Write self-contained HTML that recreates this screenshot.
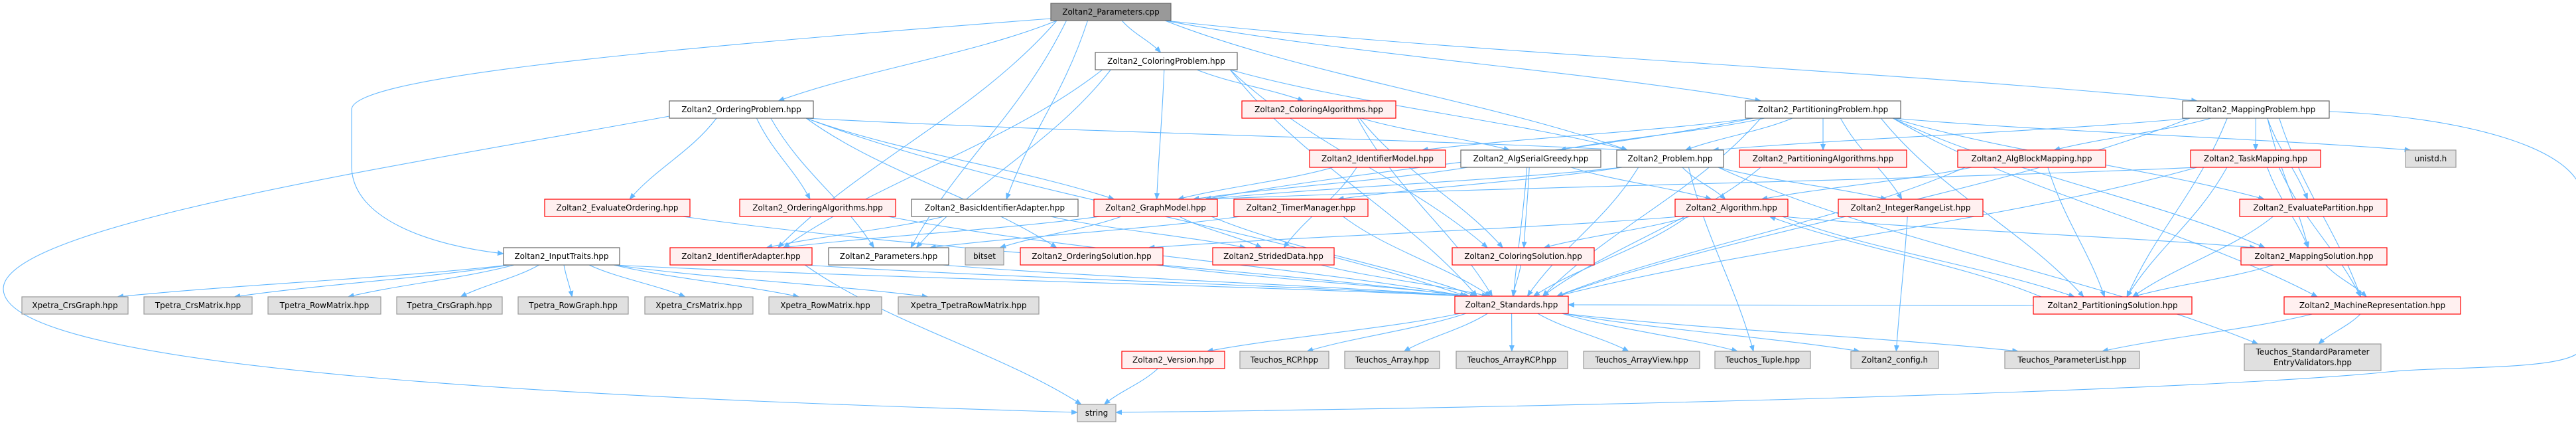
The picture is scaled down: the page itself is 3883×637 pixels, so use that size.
<!DOCTYPE html>
<html><head><meta charset="utf-8">
<style>
html,body{margin:0;padding:0;background:#fff;}
svg{display:block;}
text{font-family:"DejaVu Sans","Liberation Sans",sans-serif;font-size:12px;fill:#000;}
.w{fill:#fff;stroke:#666;stroke-width:1.2;}
.r{fill:#fff0f0;stroke:#f00;stroke-width:1.2;}
.g{fill:#e0e0e0;stroke:#999;stroke-width:1.2;}
.k{fill:#999;stroke:#666;stroke-width:1.2;}
.e{fill:none;stroke:#63b8ff;stroke-width:1.1;}
</style></head><body>
<svg id="s" width="3883" height="637" viewBox="0 0 3883 637" xmlns="http://www.w3.org/2000/svg">
<defs><marker id="a" markerWidth="10" markerHeight="8" refX="9" refY="4" orient="auto" markerUnits="userSpaceOnUse"><path d="M0,0 L10,4 L0,8 z" fill="#63b8ff"/></marker></defs>
<g id="edges"></g>
<g id="nodes">
<rect id="cpp" class="k" x="1584" y="5" width="181" height="26"/><text x="1674.5" y="22" text-anchor="middle">Zoltan2_Parameters.cpp</text>
<rect id="colp" class="w" x="1651" y="79" width="214" height="26"/><text x="1758" y="96" text-anchor="middle">Zoltan2_ColoringProblem.hpp</text>
<rect id="ordp" class="w" x="1009" y="152" width="217" height="26"/><text x="1117.5" y="169" text-anchor="middle">Zoltan2_OrderingProblem.hpp</text>
<rect id="cola" class="r" x="1872" y="152" width="232" height="26"/><text x="1988" y="169" text-anchor="middle">Zoltan2_ColoringAlgorithms.hpp</text>
<rect id="partp" class="w" x="2631" y="152" width="234" height="26"/><text x="2748" y="169" text-anchor="middle">Zoltan2_PartitioningProblem.hpp</text>
<rect id="mapp" class="w" x="3290" y="152" width="221" height="26"/><text x="3400.5" y="169" text-anchor="middle">Zoltan2_MappingProblem.hpp</text>
<rect id="idm" class="r" x="1974" y="226" width="205" height="26"/><text x="2076.5" y="243" text-anchor="middle">Zoltan2_IdentifierModel.hpp</text>
<rect id="asg" class="w" x="2202" y="226" width="211" height="26"/><text x="2307.5" y="243" text-anchor="middle">Zoltan2_AlgSerialGreedy.hpp</text>
<rect id="prob" class="w" x="2437" y="226" width="161" height="26"/><text x="2517.5" y="243" text-anchor="middle">Zoltan2_Problem.hpp</text>
<rect id="parta" class="r" x="2622" y="226" width="252" height="26"/><text x="2748" y="243" text-anchor="middle">Zoltan2_PartitioningAlgorithms.hpp</text>
<rect id="abm" class="r" x="2951" y="226" width="223" height="26"/><text x="3062.5" y="243" text-anchor="middle">Zoltan2_AlgBlockMapping.hpp</text>
<rect id="task" class="r" x="3302" y="226" width="196" height="26"/><text x="3400" y="243" text-anchor="middle">Zoltan2_TaskMapping.hpp</text>
<rect id="unistd" class="g" x="3626" y="226" width="76" height="26"/><text x="3664" y="243" text-anchor="middle">unistd.h</text>
<rect id="evo" class="r" x="821" y="300" width="219" height="26"/><text x="930.5" y="317" text-anchor="middle">Zoltan2_EvaluateOrdering.hpp</text>
<rect id="orda" class="r" x="1115" y="300" width="235" height="26"/><text x="1232.5" y="317" text-anchor="middle">Zoltan2_OrderingAlgorithms.hpp</text>
<rect id="bia" class="w" x="1374" y="300" width="251" height="26"/><text x="1499.5" y="317" text-anchor="middle">Zoltan2_BasicIdentifierAdapter.hpp</text>
<rect id="gm" class="r" x="1649" y="300" width="186" height="26"/><text x="1742" y="317" text-anchor="middle">Zoltan2_GraphModel.hpp</text>
<rect id="tm" class="r" x="1860" y="300" width="202" height="26"/><text x="1961" y="317" text-anchor="middle">Zoltan2_TimerManager.hpp</text>
<rect id="alg" class="r" x="2525" y="300" width="170" height="26"/><text x="2610" y="317" text-anchor="middle">Zoltan2_Algorithm.hpp</text>
<rect id="irl" class="r" x="2771" y="300" width="218" height="26"/><text x="2880" y="317" text-anchor="middle">Zoltan2_IntegerRangeList.hpp</text>
<rect id="evp" class="r" x="3376" y="300" width="222" height="26"/><text x="3487" y="317" text-anchor="middle">Zoltan2_EvaluatePartition.hpp</text>
<rect id="it" class="w" x="759" y="373" width="175" height="26"/><text x="846.5" y="390" text-anchor="middle">Zoltan2_InputTraits.hpp</text>
<rect id="ida" class="r" x="1010" y="373" width="214" height="26"/><text x="1117" y="390" text-anchor="middle">Zoltan2_IdentifierAdapter.hpp</text>
<rect id="parh" class="w" x="1249" y="373" width="181" height="26"/><text x="1339.5" y="390" text-anchor="middle">Zoltan2_Parameters.hpp</text>
<rect id="bitset" class="g" x="1455" y="373" width="58" height="26"/><text x="1484" y="390" text-anchor="middle">bitset</text>
<rect id="ords" class="r" x="1538" y="373" width="215" height="26"/><text x="1645.5" y="390" text-anchor="middle">Zoltan2_OrderingSolution.hpp</text>
<rect id="sd" class="r" x="1828" y="373" width="183" height="26"/><text x="1919.5" y="390" text-anchor="middle">Zoltan2_StridedData.hpp</text>
<rect id="cols" class="r" x="2189" y="373" width="214" height="26"/><text x="2296" y="390" text-anchor="middle">Zoltan2_ColoringSolution.hpp</text>
<rect id="maps" class="r" x="3378" y="373" width="220" height="26"/><text x="3488" y="390" text-anchor="middle">Zoltan2_MappingSolution.hpp</text>
<rect id="x1" class="g" x="33" y="447" width="160" height="26"/><text x="113" y="464" text-anchor="middle">Xpetra_CrsGraph.hpp</text>
<rect id="x2" class="g" x="217" y="447" width="163" height="26"/><text x="298.5" y="464" text-anchor="middle">Tpetra_CrsMatrix.hpp</text>
<rect id="x3" class="g" x="404" y="447" width="170" height="26"/><text x="489" y="464" text-anchor="middle">Tpetra_RowMatrix.hpp</text>
<rect id="x4" class="g" x="598" y="447" width="159" height="26"/><text x="677.5" y="464" text-anchor="middle">Tpetra_CrsGraph.hpp</text>
<rect id="x5" class="g" x="781" y="447" width="166" height="26"/><text x="864" y="464" text-anchor="middle">Tpetra_RowGraph.hpp</text>
<rect id="x6" class="g" x="972" y="447" width="163" height="26"/><text x="1053.5" y="464" text-anchor="middle">Xpetra_CrsMatrix.hpp</text>
<rect id="x7" class="g" x="1159" y="447" width="170" height="26"/><text x="1244" y="464" text-anchor="middle">Xpetra_RowMatrix.hpp</text>
<rect id="x8" class="g" x="1354" y="447" width="212" height="26"/><text x="1460" y="464" text-anchor="middle">Xpetra_TpetraRowMatrix.hpp</text>
<rect id="std" class="r" x="2193" y="446" width="171" height="26"/><text x="2278.5" y="463" text-anchor="middle">Zoltan2_Standards.hpp</text>
<rect id="ps" class="r" x="3065" y="447" width="239" height="26"/><text x="3184.5" y="464" text-anchor="middle">Zoltan2_PartitioningSolution.hpp</text>
<rect id="mr" class="r" x="3443" y="447" width="266" height="26"/><text x="3576" y="464" text-anchor="middle">Zoltan2_MachineRepresentation.hpp</text>
<rect id="ver" class="r" x="1691" y="529" width="155" height="26"/><text x="1768.5" y="546" text-anchor="middle">Zoltan2_Version.hpp</text>
<rect id="rcp" class="g" x="1869" y="529" width="134" height="26"/><text x="1936" y="546" text-anchor="middle">Teuchos_RCP.hpp</text>
<rect id="arr" class="g" x="2027" y="529" width="143" height="26"/><text x="2098.5" y="546" text-anchor="middle">Teuchos_Array.hpp</text>
<rect id="arcp" class="g" x="2195" y="529" width="168" height="26"/><text x="2279" y="546" text-anchor="middle">Teuchos_ArrayRCP.hpp</text>
<rect id="av" class="g" x="2387" y="529" width="175" height="26"/><text x="2474.5" y="546" text-anchor="middle">Teuchos_ArrayView.hpp</text>
<rect id="tup" class="g" x="2585" y="529" width="144" height="26"/><text x="2657" y="546" text-anchor="middle">Teuchos_Tuple.hpp</text>
<rect id="cfg" class="g" x="2790" y="529" width="132" height="26"/><text x="2856" y="546" text-anchor="middle">Zoltan2_config.h</text>
<rect id="pl" class="g" x="3022" y="529" width="203" height="26"/><text x="3123.5" y="546" text-anchor="middle">Teuchos_ParameterList.hpp</text>
<rect id="spev" class="g" x="3383" y="518" width="206" height="40"/><text x="3486" y="534" text-anchor="middle">Teuchos_StandardParameter</text><text x="3486" y="550" text-anchor="middle">EntryValidators.hpp</text>
<rect id="str" class="g" x="1624" y="609" width="58" height="26"/><text x="1653" y="626" text-anchor="middle">string</text>
</g>
</svg>
<script>
(function(){
var g=document.getElementById('edges');
function box(id){var r=document.getElementById(id);var x=+r.getAttribute('x'),y=+r.getAttribute('y'),w=+r.getAttribute('width'),h=+r.getAttribute('height');return {x:x,y:y,w:w,h:h,cx:x+w/2,cy:y+h/2};}
function P(d){var p=document.createElementNS('http://www.w3.org/2000/svg','path');p.setAttribute('d',d);p.setAttribute('class','e');p.setAttribute('marker-end','url(#a)');g.appendChild(p);}
function E(s,t){var a=box(s),b=box(t);var dx=b.cx-a.cx;
 var sx=a.cx+Math.max(-a.w*0.45,Math.min(a.w*0.45,dx*0.2));
 var tx=b.cx-Math.max(-b.w*0.4,Math.min(b.w*0.4,dx*0.1));
 var sy,ty;
 if(b.y>a.y+5){sy=a.y+a.h;ty=b.y;}else if(b.y<a.y-5){sy=a.y;ty=b.y+b.h;}else{
   if(dx>0){P('M'+(a.x+a.w)+','+a.cy+' L'+b.x+','+b.cy);}else{P('M'+a.x+','+a.cy+' L'+(b.x+b.w)+','+b.cy);}return;}
 var ddx=tx-sx,ddy=ty-sy;
 P('M'+sx+','+sy+' C'+(sx+ddx*0.3)+','+(sy+ddy*0.42)+' '+(sx+ddx*0.7)+','+(sy+ddy*0.62)+' '+tx+','+ty);}
var L=[
['cpp','colp'],['cpp','ordp'],['cpp','bia'],['cpp','partp'],['cpp','mapp'],['cpp','prob'],['cpp','parh'],['cpp','ida'],
['colp','cola'],['colp','gm'],['colp','cols'],['colp','prob'],['colp','std'],['colp','parh'],['colp','ida'],
['ordp','evo'],['ordp','orda'],['ordp','gm'],['ordp','ords'],['ordp','prob'],['ordp','std'],['ordp','parh'],
['cola','asg'],['cola','cols'],['cola','std'],
['partp','idm'],['partp','asg'],['partp','prob'],['partp','parta'],['partp','irl'],['partp','gm'],['partp','ps'],['partp','unistd'],['partp','evp'],['partp','mr'],['partp','std'],['partp','maps'],
['mapp','prob'],['mapp','abm'],['mapp','task'],['mapp','maps'],['mapp','mr'],['mapp','ps'],['mapp','std'],['mapp','evp'],
['idm','sd'],['idm','gm'],
['asg','cols'],['asg','alg'],['asg','gm'],['asg','std'],
['prob','alg'],['prob','irl'],['prob','std'],['prob','tup'],['prob','tm'],['prob','spev'],['prob','gm'],
['parta','std'],
['abm','alg'],['abm','ps'],['abm','std'],
['task','maps'],['task','ps'],['task','mr'],['task','gm'],['task','std'],
['gm','sd'],['gm','ida'],['gm','bitset'],['gm','std'],
['tm','std'],['tm','parh'],
['orda','std'],['bia','ida'],['bia','sd'],['evo','std'],
['alg','cols'],['alg','std'],['alg','ps'],['alg','maps'],['alg','ords'],['ps','alg'],
['irl','cfg'],['evp','ps'],['maps','ps'],['maps','mr'],
['it','x1'],['it','x2'],['it','x3'],['it','x4'],['it','x5'],['it','x6'],['it','x7'],['it','x8'],['it','std'],
['ida','std'],['ida','str'],['parh','std'],['ords','std'],['sd','std'],['cols','std'],['ps','std'],
['std','ver'],['std','rcp'],['std','arr'],['std','arcp'],['std','av'],['std','tup'],['std','cfg'],['std','pl'],
['mr','pl'],['mr','spev'],['ver','str']];
L.forEach(function(e){E(e[0],e[1]);});
P('M1584,28 C900,80 530,120 530,165 L530,250 C530,330 650,370 759,382');
P('M1009,175 C600,250 5,340 5,435 C5,560 900,600 1624,621');
P('M3511,168 C3700,175 3893,220 3893,300 L3893,520 C3893,560 3700,550 3600,560 C3300,590 2300,615 1682,621');
})();
</script>
</body></html>
